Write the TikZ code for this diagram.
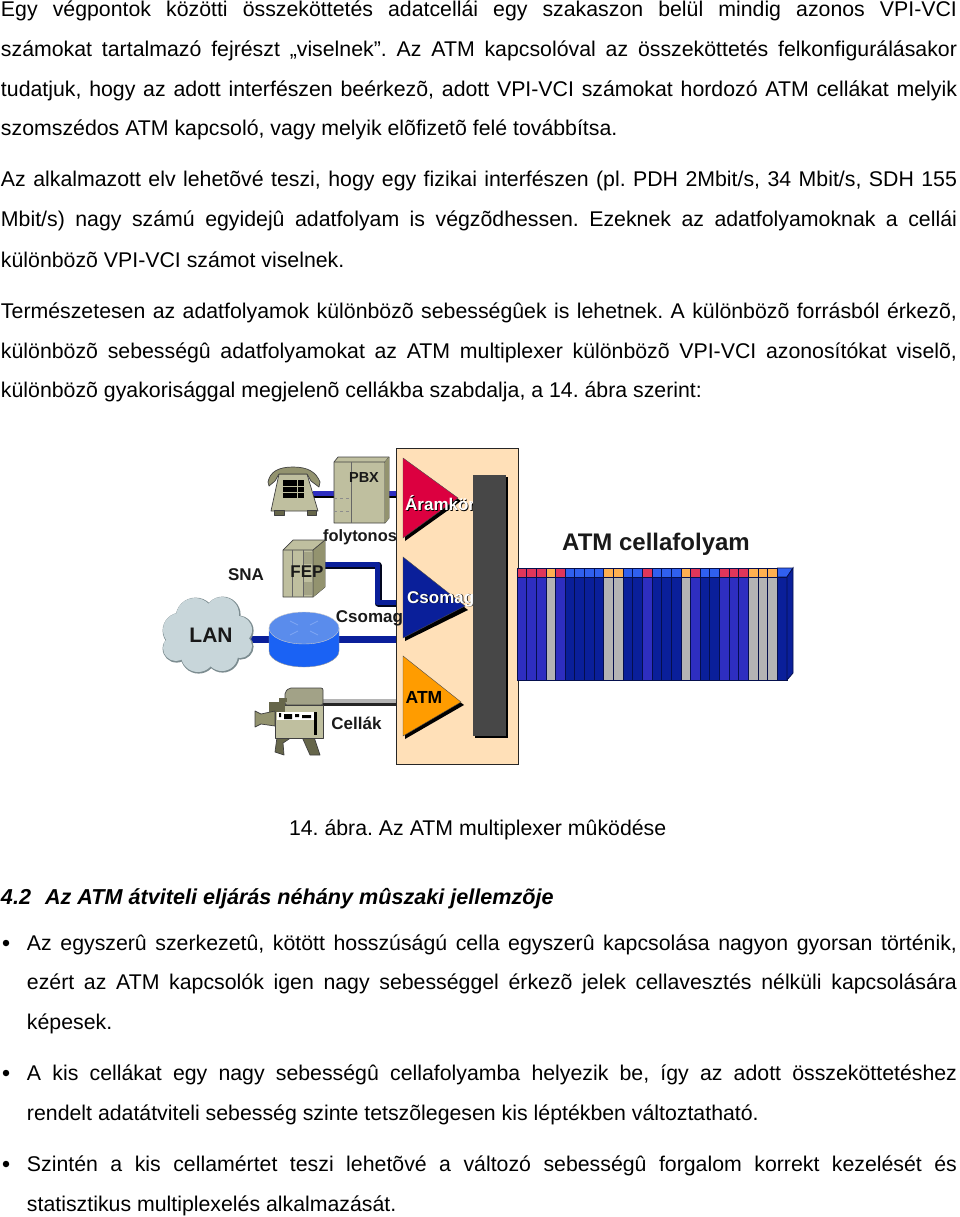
\documentclass[tikz,border=0pt]{standalone}
\usepackage{fontspec}
\setmainfont{Liberation Sans}
\frenchspacing
\definecolor{peach}{HTML}{FFE0B8}
\definecolor{kh}{HTML}{BFBF9F}
\definecolor{khd}{HTML}{93936F}
\definecolor{khk}{HTML}{66664A}
\definecolor{navy}{HTML}{0A1F9A}
\definecolor{midb}{HTML}{2E2EC0}
\definecolor{hr}{HTML}{E0365A}
\definecolor{ho}{HTML}{FFB050}
\definecolor{hb}{HTML}{3060F0}
\definecolor{gr}{HTML}{B4B4B4}
\definecolor{trired}{HTML}{DC0040}
\definecolor{triorange}{HTML}{FF9C00}
\definecolor{cloudf}{HTML}{C8D6DA}
\definecolor{cloudl}{HTML}{7C8C90}
\definecolor{rtside}{HTML}{1A62F4}
\definecolor{rttop}{HTML}{5A8CEC}
\tikzset{
  body/.style={font=\fontsize{21.3}{24}\selectfont,anchor=base west,inner sep=0pt,outer sep=0pt},
  lab/.style={font=\fontsize{17}{18}\selectfont\bfseries,inner sep=0pt,text=black!90},
  onw/.style={font=\fontsize{17}{18}\selectfont\bfseries,inner sep=0pt,anchor=west},
  bul/.style={circle,fill=black,inner sep=0pt,minimum size=6.5pt},
  eq/.style={draw=black!75,line width=.7pt,line join=round},
}
\newcommand{\J}[4]{\node[body] (#1) at (#2) {\makebox[#3pt][s]{#4}};}
\newcommand{\T}[3]{\node[body] (#1) at (#2) {#3};}
\begin{document}
\begin{tikzpicture}[x=1pt,y=-1pt]
\useasboundingbox (0,0) rectangle (960,1217);
% body text
\J{l1}{1,16.5}{956}{Egy végpontok közötti összeköttetés adatcellái egy szakaszon belül mindig azonos VPI-VCI}
\J{l2}{1,57}{956}{számokat tartalmazó fejrészt „viselnek”. Az ATM kapcsolóval az összeköttetés felkonfigurálásakor}
\J{l3}{1,96.5}{956}{tudatjuk, hogy az adott interfészen beérkezõ, adott VPI-VCI számokat hordozó ATM cellákat melyik}
\T{l4}{1,135.5}{szomszédos ATM kapcsoló, vagy melyik elõfizetõ felé továbbítsa.}
\J{l5}{1,186}{956}{Az alkalmazott elv lehetõvé teszi, hogy egy fizikai interfészen (pl. PDH 2Mbit/s, 34 Mbit/s, SDH 155}
\J{l6}{1,226}{956}{Mbit/s) nagy számú egyidejû adatfolyam is végzõdhessen. Ezeknek az adatfolyamoknak a cellái}
\T{l7}{1,267}{különbözõ VPI-VCI számot viselnek.}
\J{l8}{1,318}{956}{Természetesen az adatfolyamok különbözõ sebességûek is lehetnek. A különbözõ forrásból érkezõ,}
\J{l9}{1,358}{956}{különbözõ sebességû adatfolyamokat az ATM multiplexer különbözõ VPI-VCI azonosítókat viselõ,}
\T{l10}{1,397}{különbözõ gyakorisággal megjelenõ cellákba szabdalja, a 14. ábra szerint:}
\T{cap}{289,835}{14. ábra. Az ATM multiplexer mûködése}
\node[body,font=\fontsize{21.6}{24}\selectfont\bfseries\itshape] (h) at (1,904) {4.2\hspace{14pt}Az ATM átviteli eljárás néhány mûszaki jellemzõje};
\node[bul] (b1) at (6,943) {};
\node[bul] (b2) at (6,1073) {};
\node[bul] (b3) at (6,1164) {};
\J{m1}{27,950}{930}{Az egyszerû szerkezetû, kötött hosszúságú cella egyszerû kapcsolása nagyon gyorsan történik,}
\J{m2}{27,989}{930}{ezért az ATM kapcsolók igen nagy sebességgel érkezõ jelek cellavesztés nélküli kapcsolására}
\T{m3}{27,1029}{képesek.}
\J{m4}{27,1080}{930}{A kis cellákat egy nagy sebességû cellafolyamba helyezik be, így az adott összeköttetéshez}
\T{m5}{27,1120}{rendelt adatátviteli sebesség szinte tetszõlegesen kis léptékben változtatható.}
\J{m6}{27,1171}{930}{Szintén a kis cellamértet teszi lehetõvé a változó sebességû forgalom korrekt kezelését és}
\T{m7}{27,1211}{statisztikus multiplexelés alkalmazását.}

% anchor points of the links
\coordinate (phoneR) at (313,494.5);
\coordinate (pbxL) at (334,494.5);
\coordinate (pbxR) at (389,494.5);
\coordinate (inA) at (396,494.5);
\coordinate (fepR) at (325,565);
\coordinate (bendA) at (378,565);
\coordinate (bendB) at (378,603);
\coordinate (inB) at (396,603);
\coordinate (lanR) at (248,639);
\coordinate (rtL) at (270,639);
\coordinate (rtR) at (338,639);
\coordinate (inC) at (396,639);
\coordinate (camR) at (323,702);
\coordinate (inD) at (396,702);

% links
\foreach \a/\b in {phoneR/pbxL,pbxR/inA}{
  \draw[line width=6.5pt,midb] (\a) -- (\b);
  \draw[line width=2pt,black] ([yshift=-2.3pt]\a) -- ([yshift=-2.3pt]\b);
}
\draw[line width=7pt,black!80!navy,line join=round] (fepR) -- (bendA) -- (bendB) -- (inB);
\draw[line width=5pt,navy,line join=round] ([shift={(0,-.7)}]fepR) -- ([shift={(-.7,-.7)}]bendA) -- ([shift={(-.7,-.7)}]bendB) -- ([shift={(0,-.7)}]inB);
\draw[line width=7pt,navy] (lanR) -- (rtL);
\draw[line width=7pt,navy] (rtR) -- (inC);
\draw[line width=5.5pt,gr] (camR) -- (inD);
\draw[line width=2.5pt,black!85] ([yshift=-2.7pt]camR) -- ([yshift=-2.7pt]inD);

% panel
\node[draw=black!85,line width=1pt,fill=peach,inner sep=0pt,minimum width=122pt,minimum height=316pt,anchor=north west] (panel) at (396,448) {};

% triangles
\fill[black] (405,462) -- (461,501) -- (405,541) -- cycle;
\fill[black] (405,561) -- (468,610) -- (405,641) -- cycle;
\fill[black] (405,660) -- (464,705) -- (405,739) -- cycle;
\fill[draw=black!70,fill=trired] (403,458) -- (458,498) -- (403,538) -- cycle;
\fill[draw=black!70,fill=navy] (403,557) -- (465,606) -- (403,638) -- cycle;
\fill[draw=black!70,fill=triorange] (403,656) -- (461,702) -- (403,736) -- cycle;
% triangle labels (shadow + text), covered by the bar
\node[onw,text=black] at (405.8,503.8) {Áramkör};
\node[onw,text=white] (ara) at (405,503) {Áramkör};
\node[onw,text=black] at (407.8,599.8) {Csomag};
\node[onw,text=white] (cso) at (407,599) {Csomag};
\node[onw,text=black,font=\fontsize{17.5}{18}\selectfont\bfseries] (atm) at (405.5,697) {ATM};
% bar
\fill[black] (475,477) rectangle (508,738);
\node[fill=black!72,inner sep=0pt,minimum width=33pt,minimum height=261pt,anchor=north west] (bar) at (473,475) {};

% phone
\fill[eq,fill=kh] (279,474) -- (307,474) -- (318,511) -- (271,511) -- cycle;
\fill[eq,fill=khk] (274,510) rectangle (284,515);
\fill[eq,fill=khk] (307,510) rectangle (316,515);
\fill[eq,fill=khd] (268,482) .. controls (270,472) and (278,467) .. (293,467) .. controls (308,467) and (316,472) .. (320,482) -- (319,487) -- (311,481) -- (307,474) -- (279,474) -- (275,481) -- (269,486) -- cycle;
\fill[black] (283,480) rectangle (304,498);
\draw[kh,line width=.7pt] (283,486) -- (304,486) (283,492) -- (304,492) (297,480) -- (297,498);

% PBX
\fill[eq,fill=kh] (334,462) -- (338,457) -- (389,457) -- (389,518) -- (385,523) -- (334,523) -- cycle;
\draw[eq] (334,462) -- (385,462) -- (385,523) (385,462) -- (389,457);
\fill[khd] (385,462) -- (389,457) -- (389,518) -- (385,523) -- cycle;
\draw[black!60,line width=.7pt] (351,462) -- (351,523);
\draw[black!45,dashed,line width=.7pt] (334,498) -- (351,498) (334,511) -- (351,511);
\node[lab,font=\fontsize{14.5}{18}\selectfont\bfseries] (pbx) at (364,478) {PBX};
\node[lab,font=\fontsize{16.4}{18}\selectfont\bfseries] (fol) at (360,537) {folytonos};

% FEP
\fill[eq,fill=kh] (283,550) -- (293,540) -- (325,540) -- (325,587) -- (313,597) -- (283,597) -- cycle;
\fill[khd] (313,550) -- (325,540) -- (325,587) -- (313,597) -- cycle;
\draw[eq] (283,550) -- (313,550) -- (313,597) (313,550) -- (325,540);
\draw[black!60,line width=.7pt] (292,550) -- (292,597) (303,550) -- (303,597);
\fill[khd!85] (304,552) rectangle (312,564);
\fill[khd!85] (304,582) rectangle (312,595);
\node[lab] (fep) at (307,572) {FEP};
\node[lab] (sna) at (246,575) {SNA};

% cloud
\begin{scope}
\def\puffs{195/617/19,222/614/17,180/630/17,238/630/14,176/648/13,198/655/17,222/655/16,240/646/12,207/635/30}
\foreach \x/\y/\r in \puffs \fill[cloudl] (\x+.6,\y+.6) circle (\r+1);
\foreach \x/\y/\r in \puffs \fill[cloudf] (\x,\y) circle (\r);
\end{scope}
\node[font=\fontsize{21}{24}\selectfont\bfseries,inner sep=0pt,text=black!90] (lan) at (211,635) {LAN};

% router
\fill[draw=black!40,fill=rtside] (269,628) -- (269,651) arc[start angle=180,end angle=0,x radius=35,y radius=16] -- (339,628) -- cycle;
\fill[draw=black!20,fill=rttop] (304,628) ellipse[x radius=35,y radius=16];
\draw[white!60!rtside,opacity=.5,line width=.8pt] (290,621) -- (298,625) (318,621) -- (310,625) (290,635) -- (298,631) (318,635) -- (310,631);
\node[lab] (cs2) at (369.5,618) {Csomag};

% camera
\fill[eq,fill=khk] (277,737) -- (275,752) -- (284,755) -- (283,743) -- (292,737) -- cycle;
\fill[eq,fill=khk] (302,737) -- (310,755) -- (320,755) -- (314,737) -- cycle;
\fill[eq,fill=kh!85!black,rounded corners=2pt] (285,705) -- (285,692) -- (289,688) -- (323,688) -- (323,705) -- cycle;
\fill[eq,fill=kh] (275,705) rectangle (323,738);
\fill[khk] (269,702) rectangle (285,712);
\fill[khk] (279,698) rectangle (287,702);
\fill[eq,fill=khd] (255,711) -- (261,714) -- (275,711) -- (275,726) -- (261,724) -- (255,727) -- cycle;
\fill[white] (277,712) rectangle (314,720);
\fill[black] (279,713) rectangle (281,717) (284,714) rectangle (292,719) (295,714) rectangle (299,717) (302,715) rectangle (311,718);
\fill[black] (314,712) rectangle (317,735);
\node[lab] (cel) at (356.5,723) {Cellák};

% cell stream
\def\w{9.643}
\foreach \c [count=\i from 0] in {r,r,r,o,r,b,b,b,b,o,o,b,b,r,b,b,b,o,r,b,b,r,r,r,o,o,o}{
  \pgfmathsetmacro{\xa}{517+\i*\w}
  \def\hc{hr}\def\bc{midb}
  \if\c o\def\hc{ho}\def\bc{gr}\fi
  \if\c b\def\hc{hb}\def\bc{navy}\fi
  \draw[draw=black!50!navy,line width=.8pt,fill=\hc] (\xa,568) rectangle (\xa+\w,577.5);
  \draw[draw=black!50!navy,line width=.8pt,fill=\bc] (\xa,577.5) rectangle (\xa+\w,680);
}
\draw[draw=black!50!navy,line width=.8pt,fill=hb] (777.4,568) -- (793,568) -- (787,577) -- (777.4,577) -- cycle;
\draw[draw=black!50!navy,line width=.8pt,fill=navy] (777.4,577) rectangle (787,680);
\draw[draw=black!50!navy,line width=.8pt,fill=navy] (787,577) -- (793,568) -- (793,673) -- (787,680) -- cycle;
\node[font=\fontsize{24}{24}\selectfont\bfseries,inner sep=0pt,text=black!90] (cf) at (656,544) {ATM cellafolyam};
\end{tikzpicture}
\end{document}
